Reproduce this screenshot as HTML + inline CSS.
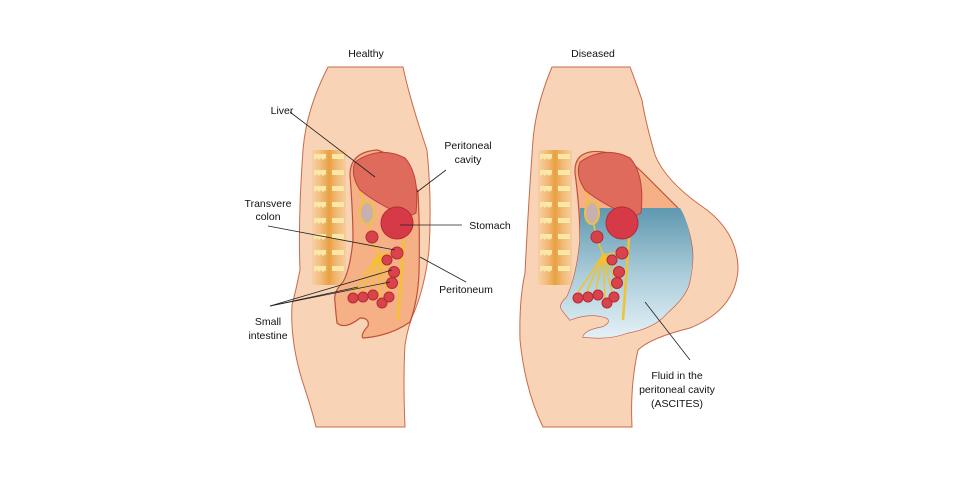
<!DOCTYPE html>
<html><head><style>
html,body{margin:0;padding:0;background:#fff;}
svg{display:block;}
text{font-family:"Liberation Sans",sans-serif;font-size:10.5px;fill:#111;}
</style></head><body>
<svg width="960" height="480" viewBox="0 0 960 480" xmlns="http://www.w3.org/2000/svg">
<defs>
<linearGradient id="fl" x1="0" y1="0" x2="0" y2="1">
<stop offset="0" stop-color="#5f98b0"/><stop offset="0.5" stop-color="#a9cbd9"/><stop offset="1" stop-color="#e3f1f6"/>
</linearGradient>
<linearGradient id="sp" x1="0" y1="0" x2="1" y2="0">
<stop offset="0" stop-color="#f4c27a" stop-opacity="0.3"/><stop offset="0.5" stop-color="#e8a040"/><stop offset="1" stop-color="#f4c27a" stop-opacity="0.4"/>
</linearGradient>
<g id="spine">
<rect x="0" y="0" width="34" height="135" fill="url(#sp)"/>
<g fill="#fbe7a8">
<path d="M2 4h12v4l-3 2 -2-2-2 2-2-2-3 2z"/><path d="M20 4h12v5h-12z"/>
<path d="M2 20h12v4l-3 2-2-2-2 2-2-2-3 2z"/><path d="M20 20h12v5h-12z"/>
<path d="M2 36h12v4l-3 2-2-2-2 2-2-2-3 2z"/><path d="M20 36h12v5h-12z"/>
<path d="M2 52h12v4l-3 2-2-2-2 2-2-2-3 2z"/><path d="M20 52h12v5h-12z"/>
<path d="M2 68h12v4l-3 2-2-2-2 2-2-2-3 2z"/><path d="M20 68h12v5h-12z"/>
<path d="M2 84h12v4l-3 2-2-2-2 2-2-2-3 2z"/><path d="M20 84h12v5h-12z"/>
<path d="M2 100h12v4l-3 2-2-2-2 2-2-2-3 2z"/><path d="M20 100h12v5h-12z"/>
<path d="M2 116h12v4l-3 2-2-2-2 2-2-2-3 2z"/><path d="M20 116h12v5h-12z"/>
</g>
</g>
<g id="guts">
<g stroke="#f2c230" stroke-width="1.6" fill="none">
<path d="M358 180 Q362 200 367 215 Q370 235 378 255"/>
<path d="M378 255 L350 297 M378 255 L360 296 M378 255 L370 295 M378 255 L380 300 M378 255 L388 296 M378 255 L392 282 M378 255 L393 270 M378 255 L388 260 M378 255 L396 252"/>
<path d="M404 238 Q401 280 398 320" stroke-width="2.5"/>
<path d="M375 188 L388 200"/>
</g>
<ellipse cx="367" cy="213" rx="7" ry="11" fill="#c9b0b0" stroke="#f0c040" stroke-width="2"/>
<circle cx="372" cy="237" r="6" fill="#d7414a" stroke="#b42a33"/>
<g fill="#d9434c" stroke="#b42a33" stroke-width="1">
<circle cx="397" cy="253" r="6"/><circle cx="387" cy="260" r="5"/><circle cx="394" cy="272" r="5.5"/>
<circle cx="392" cy="283" r="5.5"/><circle cx="353" cy="298" r="5"/><circle cx="363" cy="297" r="5"/>
<circle cx="373" cy="295" r="5"/><circle cx="382" cy="303" r="5"/><circle cx="389" cy="297" r="5"/>
</g>
<path d="M355 162 Q380 145 405 158 Q420 175 416 213 Q405 220 392 210 Q372 200 360 190 Q350 175 355 162Z" fill="#de6b5c" stroke="#c0403a"/>
<circle cx="397" cy="223" r="16" fill="#d63a47" stroke="#b22a35"/>
</g>
</defs>

<!-- HEALTHY -->
<text x="366" y="57" text-anchor="middle">Healthy</text>
<path d="M328 67 Q306 110 303 150 Q298 220 300 270 Q296 290 292 305 Q290 340 302 380 Q312 410 316 427 L405 427 Q403 380 405 345 Q408 325 415 310 Q425 285 429 250 Q432 200 427 150 Q410 100 403 67Z" fill="#f9d3b5" stroke="#c86a4a" stroke-width="1"/>
<use href="#spine" x="312" y="150"/>
<path d="M377 150 Q350 152 350 175 Q353 215 353 240 Q350 270 343 282 Q333 292 335 302 Q336 315 337 323 Q345 330 360 318 Q370 318 368 326 Q360 335 363 338 Q390 336 410 322 Q418 300 419 273 Q420 230 418 192 Q405 158 377 150Z" fill="#f5b085" stroke="#c0503a" stroke-width="1.2"/>
<use href="#guts"/>
<g stroke="#222" stroke-width="0.8">
<line x1="290" y1="112" x2="375" y2="177"/>
<line x1="446" y1="170" x2="417" y2="192"/>
<line x1="462" y1="225" x2="400" y2="225"/>
<line x1="268" y1="226" x2="395" y2="250"/>
<line x1="466" y1="282" x2="420" y2="257"/>
<line x1="270" y1="306" x2="392" y2="270"/>
<line x1="270" y1="306" x2="390" y2="282"/>
<line x1="270" y1="306" x2="358" y2="287"/>
</g>
<text x="282" y="114" text-anchor="middle">Liver</text>
<text x="468" y="149" text-anchor="middle">Peritoneal</text>
<text x="468" y="163" text-anchor="middle">cavity</text>
<text x="268" y="207" text-anchor="middle">Transvere</text>
<text x="268" y="220" text-anchor="middle">colon</text>
<text x="490" y="229" text-anchor="middle">Stomach</text>
<text x="466" y="293" text-anchor="middle">Peritoneum</text>
<text x="268" y="325" text-anchor="middle">Small</text>
<text x="268" y="339" text-anchor="middle">intestine</text>

<!-- DISEASED -->
<text x="593" y="57" text-anchor="middle">Diseased</text>
<path d="M552 67 Q536 105 533 140 Q528 210 525 273 Q519 300 520 340 Q525 390 543 427 L632 427 Q630 385 638 350 Q650 338 690 328 Q735 310 738 270 Q738 230 700 205 Q665 180 655 155 Q645 120 642 100 Q635 80 630 67Z" fill="#f9d3b5" stroke="#c86a4a" stroke-width="1"/>
<use href="#spine" x="538" y="150"/>
<path d="M590 152 Q574 155 575 173 Q580 210 580 240 Q577 275 567 297 Q558 305 562 310 L570 320 Q590 312 607 318 Q612 322 603 327 Q585 330 583 337 Q610 340 627 333 Q655 328 667 313 Q688 295 690 280 Q694 260 692 247 Q688 220 677 207 Q660 190 643 173 Q630 160 617 155 Q600 150 590 152Z" fill="#f5b085" stroke="#c0503a" stroke-width="1.2"/>
<path d="M580 208 L680 208 Q688 220 692 247 Q694 262 690 280 Q688 295 667 313 Q655 328 627 333 Q610 340 583 337 Q585 330 603 327 Q612 322 607 318 Q590 312 570 320 L562 310 Q558 305 567 297 Q577 275 580 240Z" fill="url(#fl)"/>
<use href="#guts" x="225"/>
<line x1="645" y1="302" x2="690" y2="360" stroke="#222" stroke-width="0.8"/>
<text x="677" y="379" text-anchor="middle">Fluid in the</text>
<text x="677" y="393" text-anchor="middle">peritoneal cavity</text>
<text x="677" y="407" text-anchor="middle">(ASCITES)</text>
</svg>
</body></html>
